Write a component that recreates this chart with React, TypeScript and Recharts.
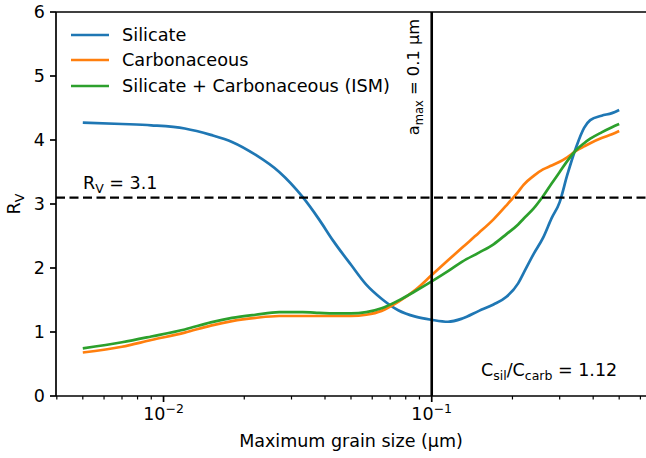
import { Customized, Legend, Line, LineChart, ReferenceLine, XAxis, YAxis } from "recharts"

const FONT = "DejaVu Sans"

// maximum grain size (µm)
const sizes = [
  0.005, 0.007, 0.009, 0.012, 0.015, 0.018, 0.022, 0.027, 0.033, 0.038, 0.043, 0.05, 0.057, 0.065, 0.075, 0.087,
  0.1, 0.115, 0.13, 0.15, 0.17, 0.19, 0.21, 0.22, 0.24, 0.26, 0.28, 0.3, 0.32, 0.345, 0.37, 0.39, 0.43, 0.47, 0.5,
]
const silicate = [
  4.27, 4.25, 4.23, 4.18, 4.08, 3.97, 3.77, 3.5, 3.11, 2.76, 2.42, 2.05, 1.74, 1.52, 1.34, 1.24,
  1.19, 1.16, 1.21, 1.33, 1.43, 1.55, 1.76, 1.92, 2.22, 2.47, 2.78, 3.03, 3.45, 3.88, 4.19, 4.31, 4.38, 4.42, 4.47,
]
const carbonaceous = [
  0.68, 0.77, 0.875, 0.99, 1.1, 1.17, 1.22, 1.25, 1.25, 1.25, 1.25, 1.25, 1.27, 1.33, 1.47, 1.66,
  1.89, 2.12, 2.32, 2.55, 2.76, 2.98, 3.19, 3.3, 3.44, 3.54, 3.6, 3.66, 3.73, 3.83, 3.9, 3.95, 4.03, 4.09, 4.14,
]
const ism = [
  0.745, 0.84, 0.93, 1.04, 1.15, 1.22, 1.27, 1.31, 1.31, 1.3, 1.29, 1.29, 1.31, 1.37, 1.49, 1.64,
  1.79, 1.95, 2.1, 2.24, 2.37, 2.53, 2.68, 2.77, 2.93, 3.12, 3.32, 3.5, 3.67, 3.84, 3.95, 4.02, 4.12, 4.2, 4.25,
]

const seriesKeys = ["sil", "carb", "ism"]
const seriesNames = ["Silicate", "Carbonaceous", "Silicate + Carbonaceous (ISM)"]
const seriesColors = ["#1f77b4", "#ff7f0e", "#2ca02c"]

const xTicks = [
  0.004, 0.005, 0.006, 0.007, 0.008, 0.009, 0.01, 0.02, 0.03, 0.04, 0.05, 0.06, 0.07, 0.08, 0.09, 0.1, 0.2, 0.3,
  0.4, 0.5, 0.6,
]
const yTicks = [0, 1, 2, 3, 4, 5, 6]
const xDomain = [0.003972, 0.6295]
const rvLine = 3.1
const amaxLine = 0.1

const data = sizes.map((a, i) => ({ a, sil: silicate[i], carb: carbonaceous[i], ism: ism[i] }))

function XTick({ x, y, payload }: any) {
  const lg = Math.log10(payload.value)
  const major = Math.abs(lg - Math.round(lg)) < 1e-6
  return (
    <g>
      <line x1={x} x2={x} y1={y} y2={y + (major ? 6 : 3.5)} stroke="#000" strokeWidth={major ? 1.7 : 1.2} />
      {major && (
        <text x={x} y={y + 24} textAnchor="middle" fontSize={17.5} fontFamily={FONT} fill="#000">
          10
          <tspan dy={-7} fontSize={12.5}>
            {"\u2212" + -Math.round(lg)}
          </tspan>
        </text>
      )}
    </g>
  )
}

function YTick({ x, y, payload }: any) {
  return (
    <text x={x} y={y} dy={6} textAnchor="end" fontSize={17.5} fontFamily={FONT} fill="#000">
      {payload.value}
    </text>
  )
}

function LegendBox() {
  return (
    <div style={{ fontFamily: FONT, fontSize: 17.7, color: "#000" }}>
      {seriesNames.map((name, i) => (
        <div key={name} style={{ height: 25.5, display: "flex", alignItems: "center", whiteSpace: "nowrap" }}>
          <svg width={38} height={6} style={{ marginRight: 13 }}>
            <line x1={0} x2={38} y1={3} y2={3} stroke={seriesColors[i]} strokeWidth={2.7} />
          </svg>
          {name}
        </div>
      ))}
    </div>
  )
}

function Annotations() {
  return (
    <g fontFamily={FONT} fill="#000" fontSize={17.5}>
      <text x={83} y={189}>
        R<tspan fontSize={12.5} dy={4}>V</tspan>
        <tspan dy={-4}> = 3.1</tspan>
      </text>
      <text x={419} y={77} fontSize={16.3} textAnchor="middle" transform="rotate(-90 419 77)">
        a<tspan fontSize={11.5} dy={4}>max</tspan>
        <tspan dy={-4}> = 0.1 μm</tspan>
      </text>
      <text x={481} y={376}>
        C<tspan fontSize={12.5} dy={4}>sil</tspan>
        <tspan dy={-4}>/C</tspan>
        <tspan fontSize={12.5} dy={4}>carb</tspan>
        <tspan dy={-4}> = 1.12</tspan>
      </text>
      <text x={20} y={204} textAnchor="middle" transform="rotate(-90 20 204)">
        R<tspan fontSize={12.5} dy={4}>V</tspan>
      </text>
      <text x={351} y={447} textAnchor="middle">
        Maximum grain size (μm)
      </text>
    </g>
  )
}

export default function App() {
  return (
    <div style={{ width: 646, height: 458, background: "#fff" }}>
      <style>{"body{margin:0;background:#fff}"}</style>
      <LineChart width={646} height={458} data={data} margin={{ top: 12, right: 0, bottom: 0, left: 0 }}>
        <XAxis
          dataKey="a"
          type="number"
          scale="log"
          domain={xDomain}
          allowDataOverflow
          ticks={xTicks}
          interval={0}
          tick={<XTick />}
          tickLine={false}
          tickSize={0}
          tickMargin={0}
          height={62}
          axisLine={{ stroke: "#000", strokeWidth: 1.7 }}
        />
        <YAxis
          type="number"
          domain={[0, 6]}
          ticks={yTicks}
          interval={0}
          width={56}
          tick={<YTick />}
          tickSize={6}
          tickMargin={5}
          tickLine={{ stroke: "#000", strokeWidth: 1.7 }}
          axisLine={{ stroke: "#000", strokeWidth: 1.7 }}
        />
        {seriesKeys.map((k, i) => (
          <Line
            key={k}
            dataKey={k}
            name={seriesNames[i]}
            stroke={seriesColors[i]}
            strokeWidth={2.7}
            dot={false}
            type="monotone"
            isAnimationActive={false}
          />
        ))}
        <ReferenceLine y={6} stroke="#000" strokeWidth={1.7} />
        <ReferenceLine y={rvLine} stroke="#000" strokeWidth={2.2} strokeDasharray="9 4.5" />
        <ReferenceLine x={amaxLine} stroke="#000" strokeWidth={2.6} />
        <Legend
          layout="vertical"
          align="center"
          verticalAlign="middle"
          wrapperStyle={{ left: 71, top: 22, width: "auto", height: "auto" }}
          content={() => <LegendBox />}
        />
        <Customized component={Annotations} />
      </LineChart>
    </div>
  )
}
